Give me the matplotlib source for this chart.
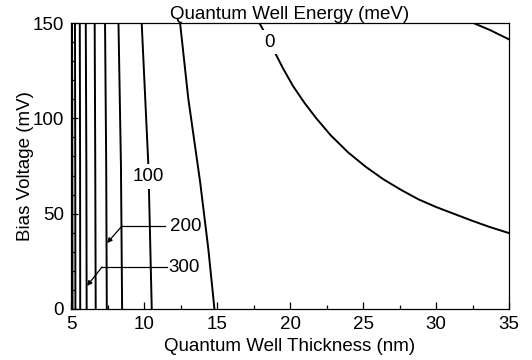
import matplotlib.pyplot as plt
from matplotlib.ticker import MultipleLocator

plt.rcParams['font.family'] = ['Liberation Sans', 'DejaVu Sans']
plt.rcParams['font.size'] = 13.5

# contour levels (meV) traced as x positions (nm) at the listed bias values (mV)
steep_levels = [450, 400, 350, 300, 250, 200, 150, 100]
steep_bias = [0, 75, 150]
steep_x = [
    [5.10, 5.09, 5.07],
    [5.30, 5.29, 5.27],
    [5.63, 5.62, 5.60],
    [6.07, 6.05, 6.01],
    [6.69, 6.66, 6.62],
    [7.45, 7.41, 7.33],
    [8.50, 8.42, 8.25],
    [10.53, 10.30, 9.84],
]

level50_x = [14.82, 14.75, 14.40, 13.84, 13.03, 12.47]
level50_y = [0, 5.6, 31.8, 66.8, 110.5, 150]

level0_x = [17.9, 18.3, 18.9, 19.5, 20.2, 21.0, 21.8, 22.8, 24.0, 25.2, 26.4,
            27.6, 28.8, 30.0, 31.2, 32.4, 33.6, 35.0]
level0_y = [150, 144.5, 135.5, 126.5, 117, 108, 100, 91, 82, 74.5, 68,
            62.5, 57.5, 53.5, 50, 46.5, 43.2, 39.8]

levelm50_x = [32.56, 33.7, 35.0]
levelm50_y = [150, 146.3, 141.4]

fig = plt.figure(figsize=(5.32, 3.6), dpi=100)
ax = fig.add_axes([0.1335, 0.1417, 0.8233, 0.7944])

lw = 1.4
for xs in steep_x:
    ax.plot(xs, steep_bias, color='black', lw=lw)
ax.plot(level50_x, level50_y, color='black', lw=lw)
ax.plot(level0_x, level0_y, color='black', lw=lw)
ax.plot(levelm50_x, levelm50_y, color='black', lw=lw)

# inline contour labels
box = dict(facecolor='white', edgecolor='none', pad=2.5)
ax.text(10.3, 69.5, '100', ha='center', va='center', bbox=box, zorder=5)
ax.text(18.6, 140, '0', ha='center', va='center', bbox=box, zorder=5)

# leader lines for the crowded levels
leaders = [('200', (8.49, 43.5), (11.44, 43.5), (7.47, 34.6), 11.75),
           ('300', (7.12, 22.0), (11.58, 22.0), (6.10, 12.1), 11.65)]
for label, corner, end, tip, tx in leaders:
    ax.plot([corner[0], end[0]], [corner[1], end[1]], color='black', lw=0.9)
    ax.annotate('', xy=tip, xytext=corner,
                arrowprops=dict(arrowstyle='-|>', color='black', lw=0.9,
                                mutation_scale=7, shrinkA=0, shrinkB=0))
    ax.text(tx, corner[1], label, ha='left', va='center')

ax.set_xlim(5, 35)
ax.set_ylim(0, 150)
ax.xaxis.set_major_locator(MultipleLocator(5))
ax.xaxis.set_minor_locator(MultipleLocator(2.5))
ax.yaxis.set_major_locator(MultipleLocator(50))
ax.yaxis.set_minor_locator(MultipleLocator(10))
ax.tick_params(which='both', direction='in', top=False, right=False, width=0.9)
ax.tick_params(axis='x', which='major', length=5, pad=5)
ax.tick_params(axis='y', which='major', length=5, pad=5)
ax.tick_params(which='minor', length=3)
for s in ax.spines.values():
    s.set_linewidth(0.9)

ax.set_xlabel('Quantum Well Thickness (nm)', labelpad=4)
ax.set_ylabel('Bias Voltage (mV)', labelpad=-1)
ax.set_title('Quantum Well Energy (meV)', fontsize=13.5, pad=-0.5)

fig.savefig('out.png', dpi=100)
